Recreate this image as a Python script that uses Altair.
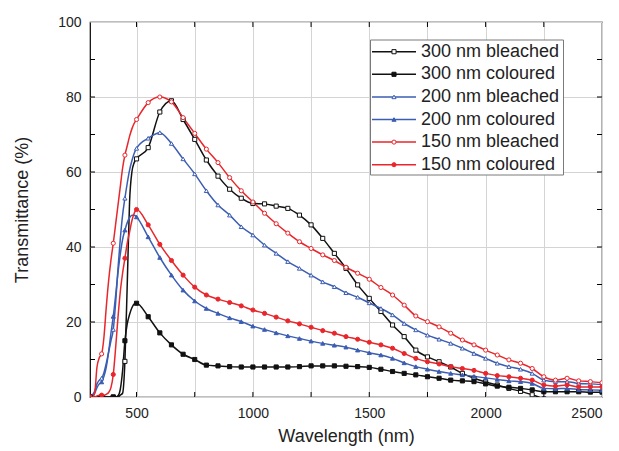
import altair as alt
import pandas as pd

# ---------------- data ----------------
wavelength = [300, 310, 320, 330, 340, 350, 360, 370, 380, 390, 400, 410, 420, 430, 440,
              450, 460, 470, 480, 490, 500, 550, 600, 650, 700, 750, 800, 850, 900, 950,
              1000, 1050, 1100, 1150, 1200, 1250, 1300, 1350, 1400, 1450, 1500, 1550, 1600,
              1650, 1700, 1750, 1800, 1850, 1900, 1950, 2000, 2050, 2100, 2150, 2200, 2250,
              2300, 2350, 2400, 2450, 2500]

t300_bleached = [0, 0, 0, 0, 0, 0, 0, 0, 0, 0, 0, 0, 0, 0.5, 1,
                 9.5, 30, 52, 60, 62.5, 63.5, 66.5, 76, 79, 74, 68.7, 63.2, 58.9, 55.4, 53,
                 51.6, 51.5, 50.9, 50.3, 48.5, 45.9, 42.3, 38.3, 34.3, 29.9, 26.3, 22.8, 19.2,
                 16.1, 12.5, 10.7, 9.4, 8, 6.3, 5, 4, 3.2, 2.3, 1.5, 0.6, -0.5,
                 None, None, None, None, None]
t300_coloured = [0, 0, 0, 0, 0, 0, 0, 0, 0, 0, 0, 0, 0.3, 2, 7,
                 15, 19.5, 22, 23.8, 24.8, 25, 21.4, 17.1, 13.9, 11.4, 10, 8.5, 8.3, 8.1, 8,
                 8, 8, 8, 8, 8.1, 8.3, 8.3, 8.3, 8.2, 8.1, 7.9, 7.4, 6.8,
                 6.3, 5.9, 5.4, 5, 4.5, 4.3, 4.1, 3.5, 2.9, 2.6, 2.3, 1.9, 1.4,
                 1.4, 1.4, 1.4, 1.3, 1.3]
t200_bleached = [0, 0.5, 1.5, 3.5, 4.5, 5, 6.5, 9, 12, 15, 18, 25, 34, 42, 48.5,
                 53, 57, 60.5, 63, 65, 66.3, 69, 70.5, 67.6, 63.5, 59.5, 55, 51.2, 48.5, 45.4,
                 43.2, 40.5, 38.3, 36.1, 34.3, 32.5, 30.7, 29.4, 27.8, 26.6, 25.1, 23.6, 21.9,
                 19.6, 17.9, 16.5, 15.4, 14.3, 13, 11.6, 10.3, 9, 8.1, 7.4, 6.3, 4.5,
                 4.1, 4.1, 3.6, 3.5, 3.3]
t200_coloured = [0, 0.3, 1, 2.5, 3.5, 4, 5.5, 8, 12, 17, 21.5, 27, 33, 38, 42,
                 44.5, 46.5, 47.8, 48.5, 48.5, 48, 42.7, 37.2, 32.5, 28.5, 25.6, 23.6, 22.3, 21.1, 20.1,
                 18.9, 18, 17.1, 16.3, 15.6, 14.9, 14.3, 13.8, 13.3, 12.5, 11.8, 11.2, 10.3,
                 9.1, 8.1, 7.4, 6.8, 6.3, 5.9, 5.5, 5.1, 4.7, 4.3, 4.1, 3.6, 2.3,
                 2.2, 2.3, 2, 1.9, 1.8]
t150_bleached = [0, 0, 1, 8, 10.5, 11.5, 16, 24, 31, 36.5, 41, 46, 51, 56, 61,
                 64.5, 67, 69.5, 71.5, 73, 74, 78.5, 80, 78.7, 74.5, 70.3, 66.1, 62.5, 58.5, 55,
                 52, 49, 46.2, 43.7, 41.4, 39.6, 37.9, 36.4, 34.6, 33, 31.4, 29.2, 27.2,
                 24.5, 21.6, 20.1, 18.7, 17, 15.2, 13.9, 12.5, 11.2, 9.9, 9, 7.6, 5.4,
                 4.5, 5, 4.3, 4.1, 3.8]
t150_coloured = [0, 0, 0, 0.3, 0.5, 0.5, 0.5, 0.7, 1.2, 2.5, 6, 13, 21, 28, 33,
                 37, 41, 44, 47, 49, 50, 45.9, 40.7, 36.4, 32.5, 29.3, 27.2, 26.1, 25.2, 24.3,
                 23.2, 22.3, 21.3, 20.3, 19.5, 18.6, 17.7, 17, 16.1, 15.4, 14.6, 13.9, 13,
                 11.6, 10.3, 9.4, 8.8, 8.1, 7.6, 7.1, 6.3, 5.7, 5.4, 5, 4.5, 3.2,
                 2.9, 3.2, 2.7, 2.7, 2.7]

series_labels = ["300 nm bleached", "300 nm coloured", "200 nm bleached",
                 "200 nm coloured", "150 nm bleached", "150 nm coloured"]
series_values = [t300_bleached, t300_coloured, t200_bleached,
                 t200_coloured, t150_bleached, t150_coloured]
series_colors = ["#111111", "#111111", "#3b5db2", "#3b5db2", "#e8262b", "#e8262b"]
series_open = [True, False, True, False, True, False]
series_shapes = ["square", "square", "triangle-up", "triangle-up", "circle", "circle"]

x_grid = [500, 750, 1000, 1250, 1500, 1750, 2000, 2250]
y_grid = [10, 20, 30, 40, 50, 60, 70, 80, 90]

# ---------------- build tables ----------------
rows = []
for lab, vals, col, op, shp in zip(series_labels, series_values, series_colors,
                                   series_open, series_shapes):
    for w, v in zip(wavelength, vals):
        if v is None:
            continue
        rows.append(dict(wl=w, T=v, series=lab, col=col,
                         fillc=("white" if op else col), shape=shp,
                         marker=(w % 50 == 0)))
df = pd.DataFrame(rows)
pts = df[df["marker"]]

W, H = 512, 375
FONT = "Liberation Sans"
MSIZE = 17

xs = alt.Scale(domain=[300, 2500], nice=False, zero=False)
ys = alt.Scale(domain=[0, 100], nice=False, zero=False)

x_enc = alt.X("wl:Q", scale=xs,
              axis=alt.Axis(values=x_grid + [2500], title="Wavelength (nm)", format="d",
                            labelExpr="datum.value % 500 == 0 ? datum.label : ''",
                            tickSize=0, domain=False, labelPadding=9,
                            titlePadding=7, gridColor="#d4d4d4"))
y_enc = alt.Y("T:Q", scale=ys,
              axis=alt.Axis(values=[0] + y_grid + [100], title="Transmittance (%)", format="d",
                            labelExpr="datum.value % 20 == 0 ? datum.label : ''",
                            tickSize=0, domain=False, labelPadding=9,
                            titlePadding=26, gridColor="#d4d4d4"))

lines = alt.Chart(df).mark_line(interpolate="monotone", strokeWidth=1.5, clip=True).encode(
    x=x_enc, y=y_enc,
    stroke=alt.Stroke("col:N", scale=None),
    detail="series:N",
    order="wl:Q",
)
points = alt.Chart(pts).mark_point(filled=True, size=MSIZE, strokeWidth=1, opacity=1, clip=True).encode(
    x=alt.X("wl:Q", scale=xs), y=alt.Y("T:Q", scale=ys),
    fill=alt.Fill("fillc:N", scale=None),
    stroke=alt.Stroke("col:N", scale=None),
    shape=alt.Shape("shape:N", scale=None),
)

# inward ticks on all four sides
tx = pd.DataFrame({"v": x_grid})
ty = pd.DataFrame({"v": y_grid})
tl = 5.0 / W * 2200
tly = 5.0 / H * 100
tick_b = alt.Chart(tx).mark_rule(color="black", strokeWidth=1).encode(
    x=alt.X("v:Q", scale=xs), y=alt.YDatum(0), y2=alt.Y2Datum(tly))
tick_t = alt.Chart(tx).mark_rule(color="black", strokeWidth=1).encode(
    x=alt.X("v:Q", scale=xs), y=alt.YDatum(100), y2=alt.Y2Datum(100 - tly))
tick_l = alt.Chart(ty).mark_rule(color="black", strokeWidth=1).encode(
    y=alt.Y("v:Q", scale=ys), x=alt.XDatum(300), x2=alt.X2Datum(300 + tl))
tick_r = alt.Chart(ty).mark_rule(color="black", strokeWidth=1).encode(
    y=alt.Y("v:Q", scale=ys), x=alt.XDatum(2500), x2=alt.X2Datum(2500 - tl))

main = alt.layer(lines, points, tick_b, tick_t, tick_l, tick_r)

# ---------------- legend (pixel space, own scales) ----------------
leg = pd.DataFrame({
    "label": series_labels,
    "ly": [29.7 + 22.6 * i for i in range(6)],
    "col": series_colors,
    "fillc": ["white" if o else c for o, c in zip(series_open, series_colors)],
    "shape": series_shapes,
})
ly_scale = alt.Scale(domain=[H, 0], nice=False, zero=False)
box = alt.Chart(pd.DataFrame({"a": [0]})).mark_rect(
    fill="white", stroke="#7a7a7a", strokeWidth=1).encode(
    x=alt.value(280.5), x2=alt.value(473.5), y=alt.value(18), y2=alt.value(153))
leg_line = alt.Chart(leg).mark_rule(strokeWidth=1.5).encode(
    x=alt.value(282), x2=alt.value(326),
    y=alt.Y("ly:Q", scale=ly_scale, axis=None),
    stroke=alt.Stroke("col:N", scale=None))
leg_pt = alt.Chart(leg).mark_point(filled=True, size=MSIZE, strokeWidth=1, opacity=1).encode(
    x=alt.value(304),
    y=alt.Y("ly:Q", scale=ly_scale, axis=None),
    fill=alt.Fill("fillc:N", scale=None),
    stroke=alt.Stroke("col:N", scale=None),
    shape=alt.Shape("shape:N", scale=None))
leg_txt = alt.Chart(leg).mark_text(align="left", baseline="middle", fontSize=18,
                                   font=FONT, color="#222222").encode(
    x=alt.value(331),
    y=alt.Y("ly:Q", scale=ly_scale, axis=None),
    text="label:N")
legend = alt.layer(box, leg_line, leg_pt, leg_txt)

chart = alt.layer(main, legend).resolve_scale(y="independent").properties(
    width=W, height=H,
    padding={"left": 82, "top": 14, "right": 8, "bottom": 50},
    autosize="none",
).configure_view(stroke="black", strokeWidth=1.2).configure_axis(
    labelFont=FONT, titleFont=FONT, labelFontSize=14, titleFontSize=18,
    labelColor="#222222", titleColor="#222222", titleFontWeight="normal",
    grid=True, gridWidth=1,
)

chart.save("out.html", embed_options={"renderer": "svg", "actions": False})
